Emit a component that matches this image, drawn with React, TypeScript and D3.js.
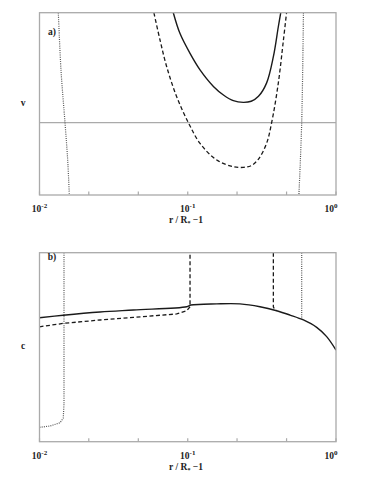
import React from "react";
import * as d3 from "d3";

const tickVals = [0.01, 0.0215, 0.0464, 0.1, 0.215, 0.464, 1];
const majorTicks = [0.01, 0.1, 1];
const majorExp = ["-2", "-1", "0"];

// panel a)  v
const aSolidX = [0.0799, 0.0887, 0.1036, 0.121, 0.149, 0.175, 0.203, 0.237, 0.268, 0.3, 0.34, 0.378, 0.408, 0.424];
const aSolidY = [1.0, 0.81, 0.63, 0.48, 0.33, 0.25, 0.2, 0.185, 0.195, 0.24, 0.36, 0.6, 0.87, 1.0];
const aDashX = [0.0591, 0.065, 0.0721, 0.0842, 0.101, 0.121, 0.157, 0.203, 0.237, 0.268, 0.3, 0.34, 0.368, 0.408, 0.442, 0.464];
const aDashY = [1.0, 0.752, 0.509, 0.236, 0, -0.188, -0.339, -0.4, -0.406, -0.39, -0.33, -0.188, 0, 0.358, 0.752, 1.0];
const aDotLX = [0.0134, 0.01396, 0.01486, 0.01549, 0.01589];
const aDotLY = [1.0, 0.48, 0, -0.339, -0.657];
const aDotRX = [0.603, 0.587, 0.562];
const aDotRY = [1.0, 0, -0.657];

// panel b)  c
const bSolidX = [0.01, 0.01446, 0.0256, 0.043, 0.0984, 0.105, 0.157, 0.225, 0.307, 0.398, 0.49, 0.603, 0.741, 0.865, 1.0];
const bSolidY = [0.656, 0.669, 0.686, 0.697, 0.714, 0.723, 0.729, 0.729, 0.714, 0.693, 0.67, 0.644, 0.605, 0.556, 0.485];
const bDashLX = [0.01, 0.01446, 0.0256, 0.043, 0.0842, 0.0984, 0.1036, 0.1036];
const bDashLY = [0.608, 0.626, 0.644, 0.658, 0.676, 0.693, 0.714, 1.0];
const bDashRX = [0.378, 0.378, 0.385, 0.398];
const bDashRY = [1.0, 0.714, 0.7, 0.693];
const bDotLX = [0.01, 0.01177, 0.01374, 0.01446, 0.01463, 0.01463];
const bDotLY = [0.076, 0.083, 0.1, 0.124, 0.2, 1.0];
const bDotRX = [0.587, 0.587];
const bDotRY = [1.0, 0.648];

const W = 373;
const H = 482;
const left = 39.5;
const right = 336;

const zip = (xs: number[], ys: number[]) => xs.map((x, i) => [x, ys[i]] as [number, number]);

const font = "'Liberation Serif', 'DejaVu Serif', serif";
const lineColor = "#1a1a1a";
const dotColor = "#555";
const frameColor = "#aaaaaa";

type Series = { x: number[]; y: number[]; dash?: string; width?: number; curve?: any; color?: string };

function Panel({ top, bottom, yDomain, series, label, yLabel, zeroLine, id, labelY }: {
  top: number; bottom: number; yDomain: [number, number]; series: Series[];
  label: string; yLabel: string; zeroLine?: boolean; id: string; labelY: number;
}) {
  const x = d3.scaleLog().domain([0.01, 1]).range([left, right]);
  const y = d3.scaleLinear().domain(yDomain).range([bottom, top]);

  return (
    <g>
      <defs>
        <clipPath id={id}>
          <rect x={left} y={top} width={right - left} height={bottom - top} />
        </clipPath>
      </defs>
      {zeroLine && (
        <line x1={left} x2={right} y1={y(0)} y2={y(0)} stroke={frameColor} strokeWidth={1.2} />
      )}
      <g clipPath={`url(#${id})`}>
        {series.map((s, i) => {
          const gen = d3.line<[number, number]>()
            .x((d) => x(d[0]))
            .y((d) => y(d[1]))
            .curve(s.curve || d3.curveLinear);
          return (
            <path key={i} d={gen(zip(s.x, s.y)) || ""} fill="none"
              stroke={s.color || lineColor} strokeWidth={s.width || 1.3}
              strokeDasharray={s.dash} />
          );
        })}
      </g>
      <rect x={left} y={top} width={right - left} height={bottom - top}
        fill="none" stroke={frameColor} strokeWidth={1.3} />
      {tickVals.map((t, i) => (
        <line key={i} x1={x(t)} x2={x(t)} y1={bottom} y2={bottom - 3.5} stroke={frameColor} strokeWidth={1.2} />
      ))}
      {majorTicks.map((t, i) => (
        <text key={i} x={x(t) - (i === 2 ? 5 : 0)} y={bottom + 17} textAnchor="middle"
          fontFamily={font} fontSize={9.5} fontWeight="bold" fill="#222">
          10<tspan dy={-4} fontSize={7}>{majorExp[i]}</tspan>
        </text>
      ))}
      <text x={186} y={bottom + 28} textAnchor="middle" fontFamily={font} fontSize={9.5}
        fontWeight="bold" fill="#222">
        r / R<tspan dy={2} fontSize={6}>*</tspan><tspan dy={-2}> −1</tspan>
      </text>
      <text x={23} y={(top + bottom) / 2 + 2} textAnchor="middle" fontFamily={font}
        fontSize={9.5} fontWeight="bold" fill="#222">{yLabel}</text>
      <text x={52} y={labelY} textAnchor="middle" fontFamily={font} fontSize={9.5}
        fontWeight="bold" fill="#222">{label}</text>
    </g>
  );
}

export default function App() {
  const smooth = d3.curveCatmullRom.alpha(0.5);
  const seriesA: Series[] = [
    { x: aSolidX, y: aSolidY, curve: smooth, width: 1.4 },
    { x: aDashX, y: aDashY, curve: smooth, dash: "4,2.5" },
    { x: aDotLX, y: aDotLY, curve: smooth, dash: "1,1.2", width: 1.2, color: dotColor },
    { x: aDotRX, y: aDotRY, curve: smooth, dash: "1,1.2", width: 1.2, color: dotColor },
  ];
  const seriesB: Series[] = [
    { x: bDotLX, y: bDotLY, dash: "1,1.2", width: 1.2, color: dotColor },
    { x: bDotRX, y: bDotRY, dash: "1,1.2", width: 1.2, color: dotColor },
    { x: bDashLX, y: bDashLY, dash: "4,2.5" },
    { x: bDashRX, y: bDashRY, dash: "4,2.5" },
    { x: bSolidX, y: bSolidY, curve: smooth, width: 1.4 },
  ];
  return (
    <svg width={W} height={H} style={{ position: "absolute", left: 0, top: 0, background: "#fff" }}>
      <Panel id="clipA" top={12.7} bottom={195} yDomain={[-0.657, 1]} series={seriesA}
        label="a)" yLabel="v" zeroLine labelY={35} />
      <Panel id="clipB" top={252.7} bottom={441.7} yDomain={[0, 1]} series={seriesB}
        label="b)" yLabel="c" labelY={260} />
    </svg>
  );
}
